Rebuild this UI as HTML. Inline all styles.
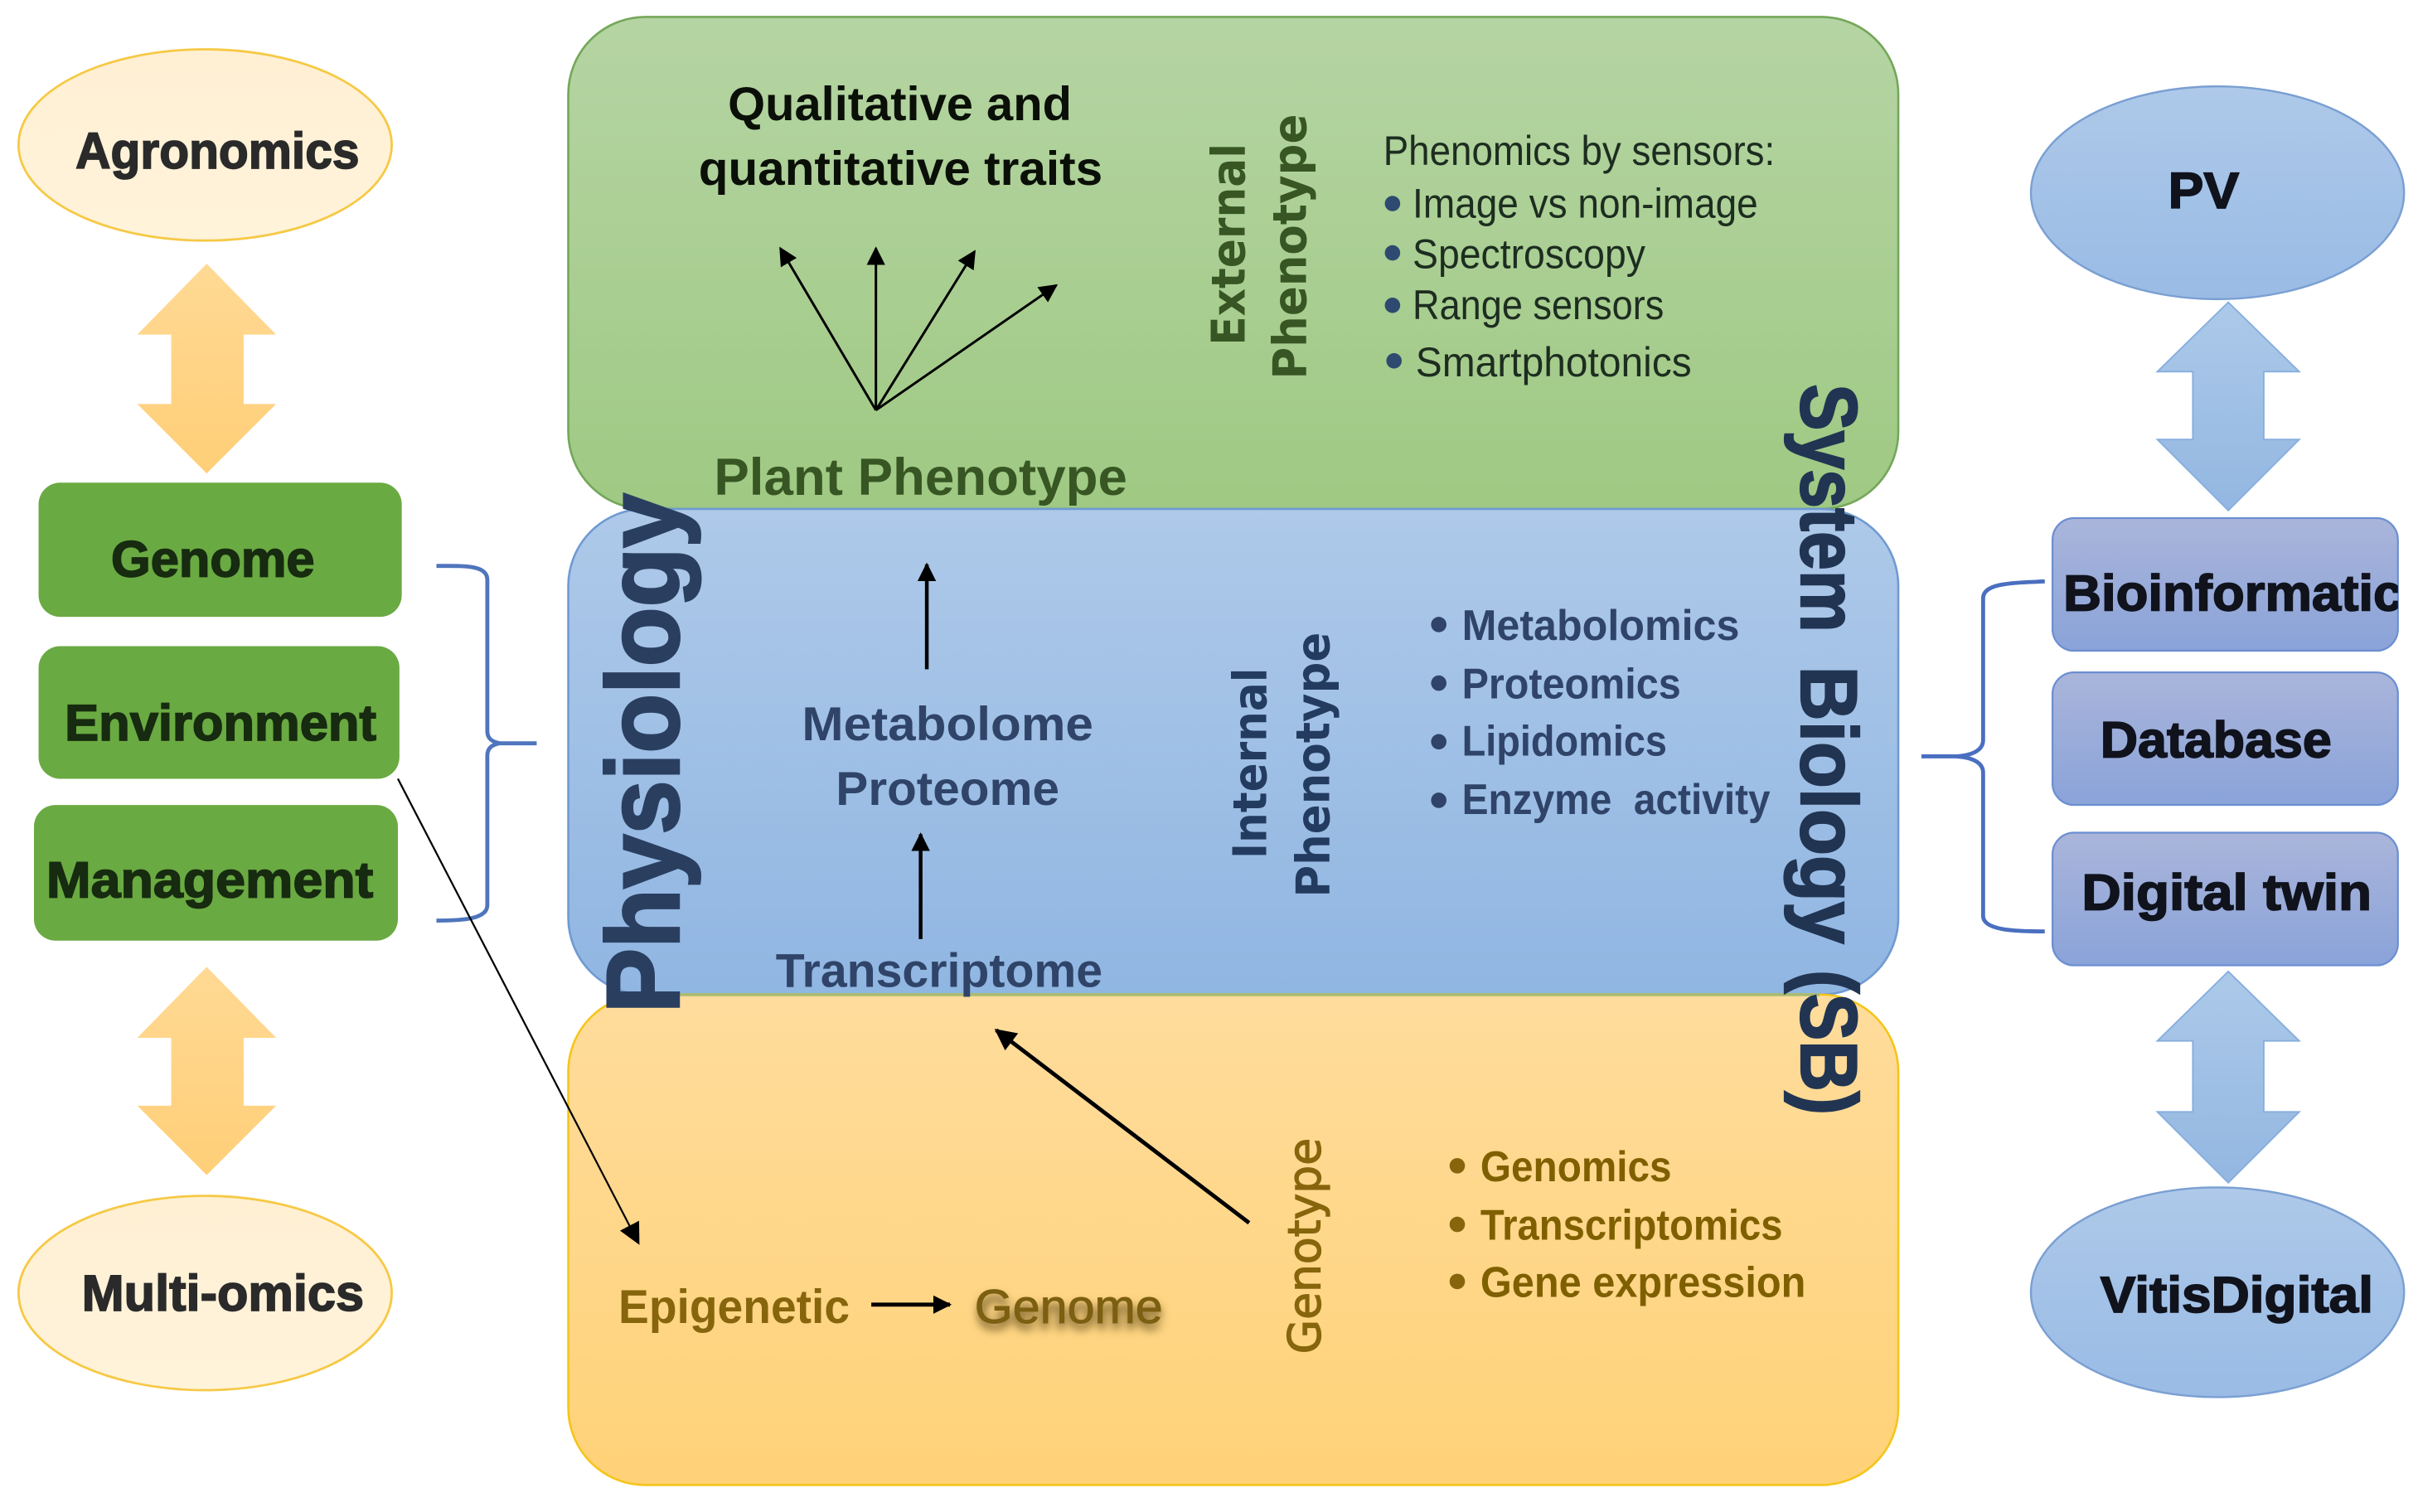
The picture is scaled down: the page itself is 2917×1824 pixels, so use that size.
<!DOCTYPE html>
<html>
<head>
<meta charset="utf-8">
<style>
html,body{margin:0;padding:0;background:#fff;width:2917px;height:1824px;overflow:hidden}
svg{display:block}
text{font-family:"Liberation Sans",sans-serif}
.h{font-family:"DejaVu Sans",sans-serif;font-weight:bold}
.blk{font-weight:bold;font-size:33px;stroke-width:.9px;fill:#2a2a2a;stroke:#2a2a2a}
.tb{font-weight:bold;fill:#2f4468;font-size:31px}
.tg{font-weight:bold;fill:#7f6000;font-size:28px}
.ti{font-size:27px;fill:#1d2d20}
</style>
</head>
<body>
<svg xmlns="http://www.w3.org/2000/svg" width="2917" height="1824" viewBox="0 0 1568 980.5">
<defs>
<linearGradient id="gG" x1="0" y1="0" x2="0" y2="1"><stop offset="0" stop-color="#b5d4a3"/><stop offset="1" stop-color="#9fc983"/></linearGradient>
<linearGradient id="gB" x1="0" y1="0" x2="0" y2="1"><stop offset="0" stop-color="#aec9e9"/><stop offset="1" stop-color="#90b6e2"/></linearGradient>
<linearGradient id="gO" x1="0" y1="0" x2="0" y2="1"><stop offset="0" stop-color="#ffdc9c"/><stop offset="1" stop-color="#ffd278"/></linearGradient>
<linearGradient id="gA" x1="0" y1="0" x2="0" y2="1"><stop offset="0" stop-color="#ffd994"/><stop offset="1" stop-color="#ffcf78"/></linearGradient>
<linearGradient id="gE" x1="0" y1="0" x2="0" y2="1"><stop offset="0" stop-color="#fff0d4"/><stop offset="1" stop-color="#fff3da"/></linearGradient>
<linearGradient id="gR" x1="0" y1="0" x2="0" y2="1"><stop offset="0" stop-color="#aec9e9"/><stop offset="1" stop-color="#99bbe5"/></linearGradient>
<linearGradient id="gAB" x1="0" y1="0" x2="0" y2="1"><stop offset="0" stop-color="#acc9e9"/><stop offset="1" stop-color="#93b7e1"/></linearGradient>
<linearGradient id="gP" x1="0" y1="0" x2="0" y2="1"><stop offset="0" stop-color="#aab5da"/><stop offset="1" stop-color="#8aa3d9"/></linearGradient>
<marker id="m" viewBox="0 0 10 10" refX="9" refY="5" markerWidth="12" markerHeight="12" markerUnits="userSpaceOnUse" orient="auto"><path d="M0 0L10 5L0 10z" fill="#000"/></marker>
<marker id="m2" viewBox="0 0 10 10" refX="9" refY="5" markerWidth="14" markerHeight="14" markerUnits="userSpaceOnUse" orient="auto"><path d="M0 0L10 5L0 10z" fill="#000"/></marker>
<filter id="sh" x="-20%" y="-40%" width="140%" height="200%"><feGaussianBlur stdDeviation="3"/></filter>
<clipPath id="bioClip"><rect x="1331" y="336" width="224" height="86" rx="14"/></clipPath>
</defs>

<!-- central panels -->
<rect x="368.5" y="11" width="862.5" height="319" rx="50" fill="url(#gG)" stroke="#74a75a" stroke-width="1.4"/>
<rect x="368.5" y="330" width="862.5" height="315" rx="50" fill="url(#gB)" stroke="#6f9ad2" stroke-width="1.4"/>
<rect x="368.5" y="645" width="862.5" height="318" rx="50" fill="url(#gO)" stroke="#f5c518" stroke-width="1.4"/>
<line x1="420" y1="645" x2="1180" y2="645" stroke="#a9bb72" stroke-width="2"/>

<!-- left ellipses -->
<ellipse cx="133" cy="94" rx="121" ry="62" fill="url(#gE)" stroke="#f6c945" stroke-width="1.5"/>
<ellipse cx="133" cy="838.500" rx="121" ry="63" fill="url(#gE)" stroke="#f6c945" stroke-width="1.5"/>
<text class="blk" x="49" y="109" textLength="184" lengthAdjust="spacingAndGlyphs">Agronomics</text>
<text class="blk" x="53" y="850" textLength="183" lengthAdjust="spacingAndGlyphs">Multi-omics</text>

<!-- left arrows -->
<path d="M134 171L179 217H158V262H179L134 307L89 262H111V217H89Z" fill="url(#gA)"/>
<path d="M134 627L179 673H158V717H179L134 762L89 717H111V673H89Z" fill="url(#gA)"/>

<!-- green boxes -->
<rect x="25" y="313" width="235.500" height="87" rx="14" fill="#6aaa42"/>
<rect x="25" y="419" width="234" height="86" rx="14" fill="#6aaa42"/>
<rect x="22" y="522" width="236" height="88" rx="14" fill="#6aaa42"/>
<text class="blk" x="72" y="374" textLength="132" lengthAdjust="spacingAndGlyphs" style="fill:#172b10;stroke:#172b10">Genome</text>
<text class="blk" x="42" y="480" textLength="202" lengthAdjust="spacingAndGlyphs" style="fill:#172b10;stroke:#172b10">Environment</text>
<text class="blk" x="30" y="582" textLength="212" lengthAdjust="spacingAndGlyphs" style="fill:#172b10;stroke:#172b10">Management</text>

<!-- left bracket -->
<path d="M283 367C300 367 316 366 316 376V474C316 479 319 481 324 482H348M324 482C319 483 316 485 316 490V587C316 596 300 597 283 597" fill="none" stroke="#4f75bd" stroke-width="2.6"/>

<!-- right bracket -->
<path d="M1326 377C1305 378 1286 378 1286 388V480C1286 487 1278 490 1268 490.500H1246M1268 490.500C1278 491 1286 494 1286 501V594C1286 603 1305 604 1326 604" fill="none" stroke="#4a6fc0" stroke-width="2.6"/>

<!-- arrows -->
<g stroke="#000" fill="none">
<line x1="568" y1="266" x2="506" y2="161" stroke-width="1.6" marker-end="url(#m)"/>
<line x1="568" y1="266" x2="568" y2="161" stroke-width="1.6" marker-end="url(#m)"/>
<line x1="568" y1="266" x2="632" y2="163" stroke-width="1.6" marker-end="url(#m)"/>
<line x1="568" y1="266" x2="685" y2="185" stroke-width="1.6" marker-end="url(#m)"/>
<line x1="601" y1="434" x2="601" y2="366" stroke-width="2.4" marker-end="url(#m)"/>
<line x1="597" y1="609" x2="597" y2="541" stroke-width="2.4" marker-end="url(#m)"/>
<line x1="810" y1="793" x2="646" y2="668" stroke-width="2.6" marker-end="url(#m2)"/>
<line x1="258" y1="505" x2="414" y2="806" stroke-width="1.2" marker-end="url(#m2)"/>
<line x1="565" y1="846" x2="616" y2="846" stroke-width="2.6" marker-end="url(#m)"/>
</g>

<!-- green panel text -->
<text x="472" y="78" font-weight="bold" font-size="31" fill="#0a0f08" textLength="223" lengthAdjust="spacingAndGlyphs">Qualitative and</text>
<text x="453" y="120" font-weight="bold" font-size="31" fill="#0a0f08" textLength="262" lengthAdjust="spacingAndGlyphs">quantitative traits</text>
<text x="463" y="321" font-weight="bold" font-size="34" fill="#375623" textLength="268" lengthAdjust="spacingAndGlyphs">Plant Phenotype</text>
<text class="h" transform="translate(807,224) rotate(-90)" font-size="30" fill="#375623" textLength="131" lengthAdjust="spacingAndGlyphs">External</text>
<text class="h" transform="translate(847,246) rotate(-90)" font-size="30" fill="#375623" textLength="172" lengthAdjust="spacingAndGlyphs">Phenotype</text>
<text class="ti" x="897" y="107" textLength="254" lengthAdjust="spacingAndGlyphs">Phenomics by sensors:</text>
<text class="ti" x="916" y="141" textLength="224" lengthAdjust="spacingAndGlyphs">Image vs non-image</text>
<text class="ti" x="916" y="174" textLength="151" lengthAdjust="spacingAndGlyphs">Spectroscopy</text>
<text class="ti" x="916" y="207" textLength="163" lengthAdjust="spacingAndGlyphs">Range sensors</text>
<text class="ti" x="918" y="244" textLength="179" lengthAdjust="spacingAndGlyphs">Smartphotonics</text>
<g fill="#2f4a70">
<circle cx="903" cy="132" r="5"/><circle cx="903" cy="164" r="5"/><circle cx="903" cy="198" r="5"/><circle cx="904" cy="234" r="5"/>
</g>

<!-- blue panel text -->
<text class="tb" x="520" y="480" textLength="189" lengthAdjust="spacingAndGlyphs">Metabolome</text>
<text class="tb" x="542" y="522" textLength="145" lengthAdjust="spacingAndGlyphs">Proteome</text>
<text class="tb" x="503" y="640" textLength="212" lengthAdjust="spacingAndGlyphs">Transcriptome</text>
<text class="h" transform="translate(821,557) rotate(-90)" font-size="30" fill="#243b60" textLength="124" lengthAdjust="spacingAndGlyphs">Internal</text>
<text class="h" transform="translate(862,582) rotate(-90)" font-size="30" fill="#243b60" textLength="172" lengthAdjust="spacingAndGlyphs">Phenotype</text>
<text x="948" y="415" font-weight="bold" font-size="28" fill="#2f4468" textLength="180" lengthAdjust="spacingAndGlyphs">Metabolomics</text>
<text x="948" y="453" font-weight="bold" font-size="28" fill="#2f4468" textLength="142" lengthAdjust="spacingAndGlyphs">Proteomics</text>
<text x="948" y="490" font-weight="bold" font-size="28" fill="#2f4468" textLength="133" lengthAdjust="spacingAndGlyphs">Lipidomics</text>
<text x="948" y="528" font-weight="bold" font-size="28" fill="#2f4468" xml:space="preserve" style="white-space:pre" textLength="200" lengthAdjust="spacingAndGlyphs">Enzyme  activity</text>
<g fill="#2f4468">
<circle cx="933" cy="405" r="5"/><circle cx="933" cy="443" r="5"/><circle cx="933" cy="481" r="5"/><circle cx="933" cy="519" r="5"/>
</g>

<!-- orange panel text -->
<text x="401" y="858" font-weight="bold" font-size="31" fill="#86650c" textLength="150" lengthAdjust="spacingAndGlyphs">Epigenetic</text>
<text x="633" y="862" font-weight="bold" font-size="31" fill="#6e5824" filter="url(#sh)" textLength="121" lengthAdjust="spacingAndGlyphs">Genome</text>
<text x="632" y="858" font-size="31" fill="#7c5f10" stroke="#7c5f10" stroke-width=".5" textLength="122" lengthAdjust="spacingAndGlyphs">Genome</text>
<text transform="translate(856,878) rotate(-90)" style="font-family:'DejaVu Sans',sans-serif" font-size="29" fill="#86650c" stroke="#86650c" stroke-width=".7" textLength="140" lengthAdjust="spacingAndGlyphs">Genotype</text>
<text class="tg" x="960" y="766" textLength="124" lengthAdjust="spacingAndGlyphs">Genomics</text>
<text class="tg" x="960" y="804" textLength="196" lengthAdjust="spacingAndGlyphs">Transcriptomics</text>
<text class="tg" x="960" y="841" textLength="211" lengthAdjust="spacingAndGlyphs">Gene expression</text>
<g fill="#86650c">
<circle cx="945" cy="756" r="5"/><circle cx="945" cy="794" r="5"/><circle cx="945" cy="831" r="5"/>
</g>

<!-- vertical headings -->
<text transform="translate(440,657) rotate(-90)" font-weight="bold" font-size="67" fill="#2a3f60" stroke="#2a3f60" stroke-width="1.6" textLength="337" lengthAdjust="spacingAndGlyphs">Physiology</text>
<g font-weight="bold" font-size="52" fill="#213553" stroke="#213553" stroke-width="1.2">
<text transform="translate(1168,249) rotate(90)" textLength="161" lengthAdjust="spacingAndGlyphs">System</text>
<text transform="translate(1168,432) rotate(90)" textLength="180" lengthAdjust="spacingAndGlyphs">Biology</text>
<text transform="translate(1168,629) rotate(90)" textLength="94" lengthAdjust="spacingAndGlyphs">(SB)</text>
</g>

<!-- right side -->
<ellipse cx="1438" cy="125" rx="121" ry="69" fill="url(#gR)" stroke="#7a9fd2" stroke-width="1.3"/>
<ellipse cx="1438" cy="838" rx="121" ry="68" fill="url(#gR)" stroke="#7a9fd2" stroke-width="1.3"/>
<path d="M1445 196L1491 241H1468V285H1491L1445 331L1399 285H1422V241H1399Z" fill="url(#gAB)" stroke="#86aede" stroke-width="1"/>
<path d="M1445 630L1491 675H1468V721H1491L1445 767L1399 721H1422V675H1399Z" fill="url(#gAB)" stroke="#86aede" stroke-width="1"/>
<rect x="1331" y="336" width="224" height="86" rx="14" fill="url(#gP)" stroke="#6c8fd2" stroke-width="1.2"/>
<rect x="1331" y="436" width="224" height="86" rx="14" fill="url(#gP)" stroke="#6c8fd2" stroke-width="1.2"/>
<rect x="1331" y="540" width="224" height="86" rx="14" fill="url(#gP)" stroke="#6c8fd2" stroke-width="1.2"/>
<text class="blk" x="1406" y="135" textLength="46" lengthAdjust="spacingAndGlyphs" style="fill:#10131c;stroke:#10131c">PV</text>
<g clip-path="url(#bioClip)"><text class="blk" x="1338" y="396" textLength="220" lengthAdjust="spacingAndGlyphs" style="fill:#10131c;stroke:#10131c">Bioinformatic</text></g>
<text class="blk" x="1362" y="491" textLength="150" lengthAdjust="spacingAndGlyphs" style="fill:#10131c;stroke:#10131c">Database</text>
<text class="blk" x="1350" y="590" textLength="188" lengthAdjust="spacingAndGlyphs" style="fill:#10131c;stroke:#10131c">Digital twin</text>
<text class="blk" x="1362" y="851" textLength="177" lengthAdjust="spacingAndGlyphs" style="fill:#10131c;stroke:#10131c">VitisDigital</text>
</svg>
</body>
</html>
